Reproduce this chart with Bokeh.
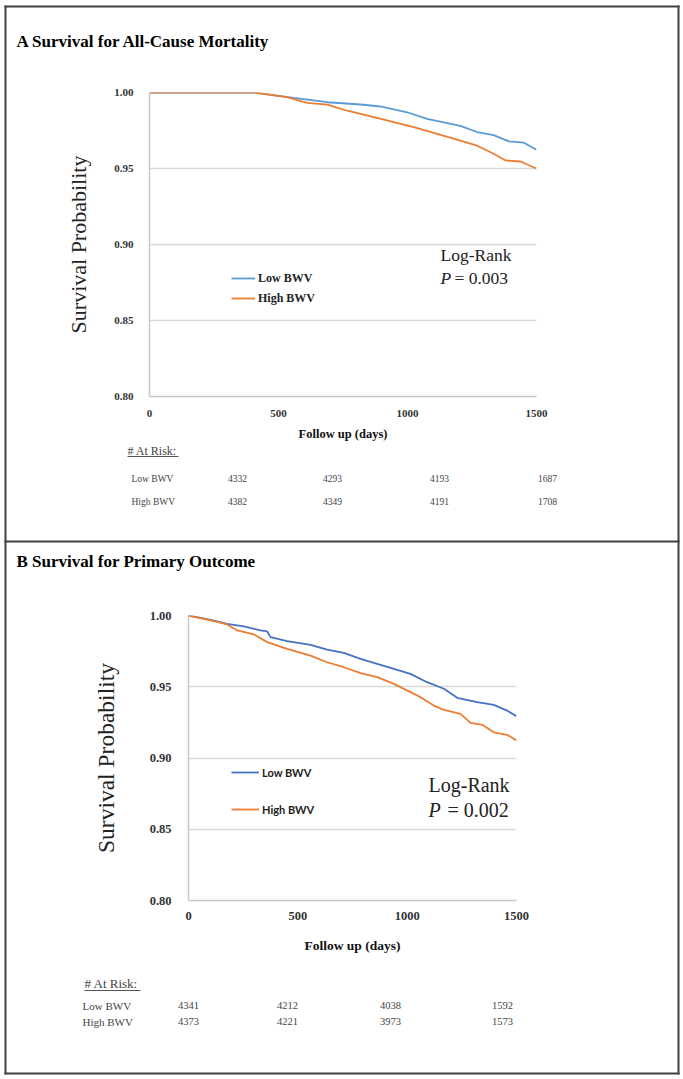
from bokeh.plotting import figure
from bokeh.models import Range1d, FixedTicker, PrintfTickFormatter, Label, Legend, LegendItem
from bokeh.embed import file_html
from bokeh.resources import INLINE
from bokeh.core.properties import value

# ---------------- data ----------------
x_ticks = [0, 500, 1000, 1500]
y_ticks = [0.80, 0.85, 0.90, 0.95, 1.00]
groups = ["Low BWV", "High BWV"]

a_low_days = [0, 404, 559, 689, 818, 895, 999, 1076, 1205, 1270, 1334, 1393, 1451, 1500]
a_low_surv = [1.0, 1.0, 0.9965, 0.9936, 0.9921, 0.9908, 0.987, 0.9827, 0.978, 0.974, 0.972, 0.9678, 0.967, 0.9623]
a_high_days = [0, 404, 533, 611, 689, 766, 870, 947, 1024, 1115, 1205, 1270, 1334, 1380, 1438, 1500]
a_high_surv = [1.0, 1.0, 0.9969, 0.9932, 0.992, 0.988, 0.9838, 0.9805, 0.9772, 0.9728, 0.9684, 0.965, 0.9597, 0.9553, 0.9546, 0.950]

b_low_days = [0, 101, 177, 253, 329, 360, 375, 451, 558, 634, 710, 787, 863, 939, 1015, 1091, 1168, 1229, 1320, 1396, 1457, 1500]
b_low_surv = [1.0, 0.997, 0.9941, 0.9923, 0.9895, 0.9888, 0.9848, 0.982, 0.9794, 0.976, 0.9738, 0.9696, 0.966, 0.9626, 0.959, 0.9532, 0.9486, 0.9422, 0.9392, 0.9373, 0.9333, 0.9293]
b_high_days = [0, 101, 177, 223, 299, 360, 451, 558, 634, 710, 787, 863, 939, 1015, 1061, 1122, 1168, 1244, 1290, 1344, 1396, 1457, 1500]
b_high_surv = [1.0, 0.9965, 0.9937, 0.9895, 0.9867, 0.9813, 0.9766, 0.9719, 0.9672, 0.9637, 0.9595, 0.9567, 0.952, 0.9462, 0.9427, 0.9368, 0.9338, 0.931, 0.9247, 0.9233, 0.918, 0.9163, 0.9123]

a_risk_low = [4332, 4293, 4193, 1687]
a_risk_high = [4382, 4349, 4191, 1708]
b_risk_low = [4341, 4212, 4038, 1592]
b_risk_high = [4373, 4221, 3973, 1573]

titles = ["A Survival for All-Cause Mortality", "B Survival for Primary Outcome"]
p_texts = ["= 0.003", "= 0.002"]

# ---------------- layout constants ----------------
W = 681
H_PAGE = 1076
SERIF = "Liberation Serif"
BORDER = "#404040"


def txt(p, xs, ys, texts, size, style="normal", align="left", color="#000000", font=SERIF):
    p.text(x=xs, y=ys, text=texts, text_font=value(font), text_font_size=value(size),
           text_font_style=style, text_align=align, text_baseline="middle", text_color=color)


def risk_table(p, head, rows_y, label_x, cols, risk, head_size, row_size, num_size, ul, ul_w):
    hx, hy = head
    txt(p, [hx], [hy], ["# At Risk:"], head_size, color="#444444")
    p.segment(x0=[hx], y0=[hy + ul], x1=[hx + ul_w], y1=[hy + ul], line_color="#555555", line_width=1)
    txt(p, [label_x, label_x], list(rows_y), groups, row_size, color="#444444")
    for row_y, vals in zip(rows_y, risk):
        txt(p, list(cols), [row_y] * len(cols), [str(v) for v in vals], num_size,
            align="center", color="#444444")


# ---- background sheet: panel borders, titles, at-risk tables (pixel coordinates)
bg = figure(width=W, height=H_PAGE, x_range=Range1d(0, W), y_range=Range1d(H_PAGE, 0),
            output_backend="svg", toolbar_location=None, min_border=0,
            x_axis_location=None, y_axis_location=None)
bg.xgrid.grid_line_color = None
bg.ygrid.grid_line_color = None
bg.outline_line_color = None
bg.styles = {"position": "absolute", "left": "0px", "top": "0px"}
bg.segment(x0=[5, 678, 4, 4, 4], y0=[5, 5, 6, 541, 1073],
           x1=[5, 678, 679, 679, 679], y1=[1074, 1074, 6, 541, 1073],
           line_color=BORDER, line_width=2)
txt(bg, [16, 16], [41, 561], titles, "17px", style="bold")
risk_table(bg, (127, 450), (478, 501), 131, (237, 332, 439, 547), (a_risk_low, a_risk_high),
           "12px", "9.5px", "9.5px", 6, 51)
risk_table(bg, (84, 983), (1005, 1021), 82, (188, 287, 390, 502), (b_risk_low, b_risk_high),
           "13px", "11px", "10.5px", 7, 56)


def chart(cfg):
    H = cfg["H"]
    oy = cfg["oy"]
    fx0, fx1, ft, fb = cfg["frame"]
    p = figure(width=W, height=H, x_range=Range1d(0, 1500), y_range=Range1d(0.80, 1.00),
               output_backend="svg", toolbar_location=None,
               min_border_left=fx0, min_border_right=W - fx1,
               min_border_top=ft, min_border_bottom=H - fb)
    p.styles = {"position": "absolute", "left": "0px", "top": f"{oy}px"}
    p.border_fill_color = None
    p.outline_line_color = None
    p.xgrid.grid_line_color = None
    p.ygrid.grid_line_color = "#d9d9d9"
    p.ygrid.grid_line_width = 1.5
    p.yaxis.ticker = FixedTicker(ticks=y_ticks)
    p.yaxis.formatter = PrintfTickFormatter(format="%.2f")
    p.xaxis.ticker = FixedTicker(ticks=x_ticks)
    for ax in (p.xaxis[0], p.yaxis[0]):
        ax.major_tick_line_color = None
        ax.minor_tick_line_color = None
        ax.axis_line_color = "#c8c8c8"
        ax.axis_line_width = 1.5
        ax.major_label_text_font = SERIF
        ax.major_label_text_font_style = "bold"
        ax.major_label_text_font_size = cfg["tick_size"]
        ax.major_label_text_color = "#333333"
    p.yaxis.major_label_standoff = cfg["ytick_standoff"]
    p.xaxis.major_label_standoff = cfg["xtick_standoff"]
    p.yaxis.axis_label = "Survival Probability"
    p.yaxis.axis_label_text_font = SERIF
    p.yaxis.axis_label_text_font_style = "normal"
    p.yaxis.axis_label_text_font_size = cfg["ylab_size"]
    p.yaxis.axis_label_text_color = "#222222"
    p.yaxis.axis_label_standoff = cfg["ylab_standoff"]
    p.xaxis.axis_label = "Follow up (days)"
    p.xaxis.axis_label_text_font = SERIF
    p.xaxis.axis_label_text_font_style = "bold"
    p.xaxis.axis_label_text_font_size = cfg["xlab_size"]
    p.xaxis.axis_label_text_color = "#111111"
    p.xaxis.axis_label_standoff = cfg["xlab_standoff"]

    r1 = p.line(cfg["low"][0], cfg["low"][1], line_color=cfg["blue"], line_width=1.8)
    r2 = p.line(cfg["high"][0], cfg["high"][1], line_color="#ED7D31", line_width=1.8)

    leg = Legend(items=[LegendItem(label=groups[0], renderers=[r1]),
                        LegendItem(label=groups[1], renderers=[r2])],
                 location=cfg["leg_loc"], padding=0, margin=0, spacing=cfg["leg_spacing"],
                 glyph_width=cfg["glyph_w"], glyph_height=20, label_height=20,
                 label_standoff=3, border_line_color=None, background_fill_alpha=0,
                 label_text_font=cfg["leg_font"], label_text_font_style="bold",
                 label_text_font_size=cfg["leg_size"], label_text_color="#222222")
    p.add_layout(leg, "center")

    def X(px):
        return (px - fx0) / (fx1 - fx0) * 1500.0

    def Y(py):
        return 1.0 - (py - oy - ft) / (fb - ft) * 0.2

    def lab(text, px, py, size, style="normal"):
        p.add_layout(Label(x=X(px), y=Y(py), text=text, text_font=SERIF,
                           text_font_size=size, text_font_style=style, text_align="left",
                           text_baseline="middle", text_color="#222222"))

    lx, ly1, ly2, px2 = cfg["lr"]
    lab("Log-Rank", lx, ly1, cfg["lr_size"])
    lab("P", lx, ly2, cfg["lr_size"], style="italic")
    lab(cfg["ptext"], px2, ly2, cfg["lr_size"])
    return p


cA = chart(dict(H=374, oy=70, frame=(149, 536, 22, 326), tick_size="11px", ytick_standoff=10,
                xtick_standoff=7, ylab_size="22px", ylab_standoff=20, xlab_size="12.5px",
                xlab_standoff=7, low=(a_low_days, a_low_surv), high=(a_high_days, a_high_surv),
                blue="#5B9BD5", leg_loc=(82, 88), leg_spacing=0, glyph_w=24, leg_font=SERIF,
                leg_size="12px", lr=(440, 254, 277, 454), lr_size="17.5px", ptext=p_texts[0]))

cB = chart(dict(H=372, oy=590, frame=(188, 516, 25, 310), tick_size="12.5px", ytick_standoff=11,
                xtick_standoff=5, ylab_size="23.5px", ylab_standoff=28, xlab_size="13.5px",
                xlab_standoff=15, low=(b_low_days, b_low_surv), high=(b_high_days, b_high_surv),
                blue="#4472C4", leg_loc=(43, 81), leg_spacing=17, glyph_w=28, leg_font="Lato",
                leg_size="11px", lr=(428, 784, 809, 447), lr_size="20px", ptext=p_texts[1]))

open("out.html", "w").write(file_html([bg, cA, cB], INLINE))
